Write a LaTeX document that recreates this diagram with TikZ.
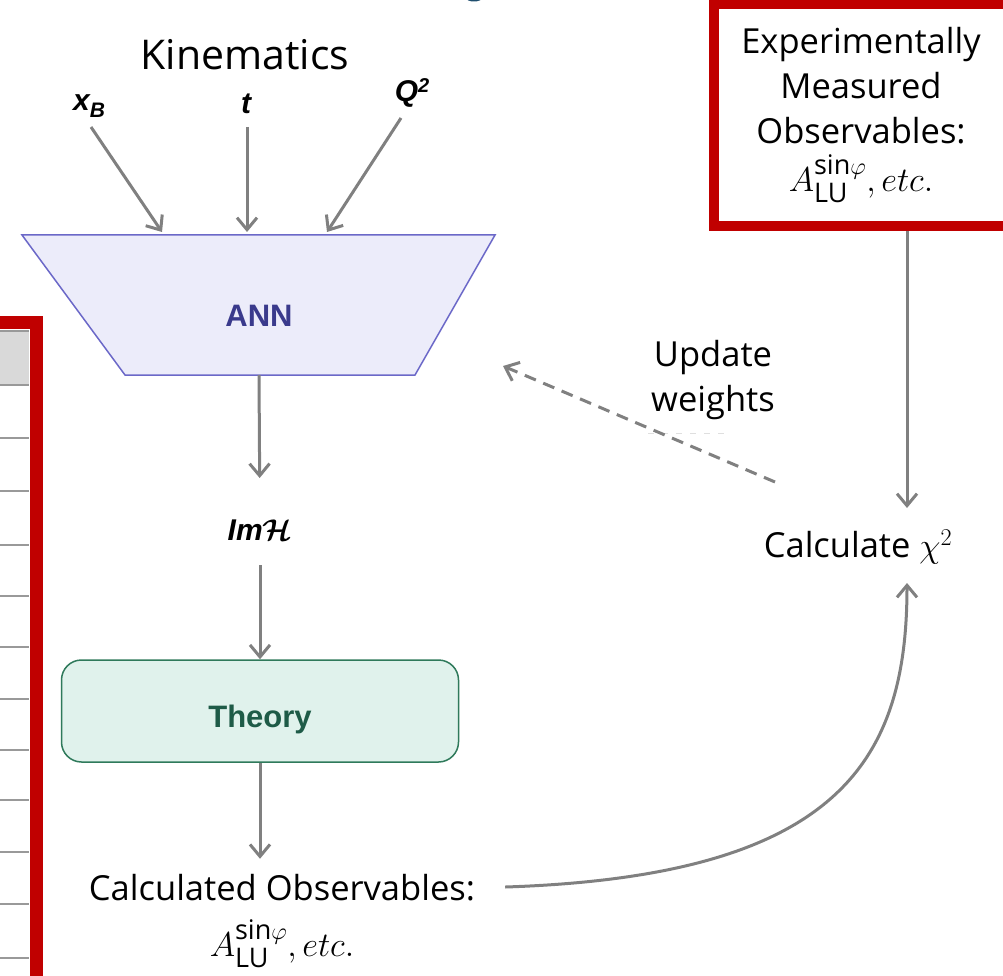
\RequirePackage{fix-cm}
\documentclass[tikz,border=0pt]{standalone}
\usepackage{amsmath}
\usepackage{fontspec}
\setmainfont{Open Sans}
\newfontfamily\arialf{Liberation Sans}
\usetikzlibrary{arrows.meta}
\definecolor{arrgray}{HTML}{808080}
\definecolor{boxred}{HTML}{C00000}
\definecolor{annfill}{HTML}{ECECFA}
\definecolor{annline}{HTML}{6B68C8}
\definecolor{anntext}{HTML}{3A3A8C}
\definecolor{thfill}{HTML}{E0F2EC}
\definecolor{thline}{HTML}{2F7A5B}
\definecolor{thtext}{HTML}{1E5B47}
\definecolor{titleblue}{HTML}{1F4E6E}
\tikzset{
  arr/.style={draw=arrgray, line width=3pt, -{Straight Barb[length=12pt,width=20pt]}},
  dasharr/.style={arr, dash pattern=on 12pt off 8pt},
  lbl/.style={font=\fontsize{34.5}{45}\selectfont, align=center, inner sep=0pt},
  kinlbl/.style={font=\arialf\bfseries\itshape\fontsize{30}{30}\selectfont, inner sep=0pt},
  tabline/.style={draw=gray!80, line width=2pt},
}
\newcommand{\asinlu}{$A^{\text{\fontsize{27}{27}\selectfont sin}\varphi}_{\text{\fontsize{27}{27}\selectfont LU}},etc.$}
\begin{document}
\begin{tikzpicture}[x=1pt,y=-1pt]
\useasboundingbox (0,0) rectangle (1003,976);
\clip (0,0) rectangle (1003,976);

% title fragment
\fill[titleblue] (474,-2) ellipse [x radius=8, y radius=3.5];

% partial table at the left edge
\fill[gray!30] (0,331) rectangle (29,385);
\foreach \yy in {331,385,438,491,545,596,647,699,750,800,852,904,958}
  \draw[tabline] (0,\yy) -- (29,\yy);
\fill[boxred] (0,316) rectangle (43,329);
\fill[boxred] (30,316) rectangle (43,976);

% Kinematics
\node[font=\fontsize{41}{41}\selectfont] (kin) at (245,55) {Kinematics};
\node[kinlbl] (xb) at (89,106) {x\raisebox{-0.45ex}{\fontsize{21}{21}\selectfont B}};
\node[kinlbl] (tt) at (246,104) {t};
\node[kinlbl] (q2) at (412,93) {Q\raisebox{0.55ex}{\fontsize{20}{20}\selectfont 2}};

% ANN trapezoid
\fill[annfill, draw=annline, line width=1.5pt] (22,235) -- (495,235) -- (415,375) -- (125,375) -- cycle;
\node[minimum width=290pt, minimum height=118pt, inner sep=0pt,
      font=\arialf\bfseries\fontsize{31}{31}\selectfont, text=anntext] (ann) at (259,316) {ANN};

\coordinate (xbin) at (162,232);
\coordinate (tin) at (247,232);
\coordinate (qin) at (327,232);
\draw[arr] (xb) ++(2,21) -- (xbin);
\draw[arr] (tt) ++(1,23) -- (tin);
\draw[arr] (q2) ++(-11,25) -- (qin);

% Im H
\node[font=\arialf\bfseries\itshape\fontsize{30}{30}\selectfont] (imh) at (260,530) {Im$\boldsymbol{\mathcal{H}}$};
\draw[arr, shorten >=52pt] (ann.south) -- (imh.center);

% Theory
\node[draw=thline, fill=thfill, line width=1.5pt, rounded corners=20pt,
      minimum width=397pt, minimum height=102pt, text height=32pt, text depth=0pt,
      font=\arialf\bfseries\fontsize{31}{31}\selectfont, text=thtext] (theory) at (260,711) {Theory};
\draw[arr, shorten <=35pt] (imh.center) -- (theory.north);

% Calculated observables
\node[lbl] (obs1) at (282,888) {Calculated Observables:};
\node[lbl] (obs2) at (282,944) {\asinlu};
\draw[arr] (theory.south) -- ++(0,96);

% Experimentally measured observables
\node[draw=boxred, line width=10pt, minimum width=294pt, minimum height=221.5pt,
      inner sep=0pt, lbl] (exp) at (861,115.25)
  {Experimentally\\Measured\\Observables:\\[3pt]\asinlu};

% Calculate chi^2
\node[lbl] (chi) at (858,547) {Calculate $\chi^2$};
\coordinate (cin) at (907,508);
\coordinate (cin2) at (907,583);
\draw[arr] (exp.south -| cin) -- (cin);
\draw[arr, shorten <=30pt] (obs1.east) .. controls (840,876) and (907,760) .. (cin2);

% Update weights
\node[lbl] (upd) at (713,380) {Update\\weights};
\draw[draw=gray!25, line width=1pt, dash pattern=on 6pt off 8pt] (648,433) -- (725,433);
\coordinate (dsrc) at (775,482);
\coordinate (ddst) at (503,366);
\draw[dasharr] (dsrc) -- (ddst);
\end{tikzpicture}
\end{document}
